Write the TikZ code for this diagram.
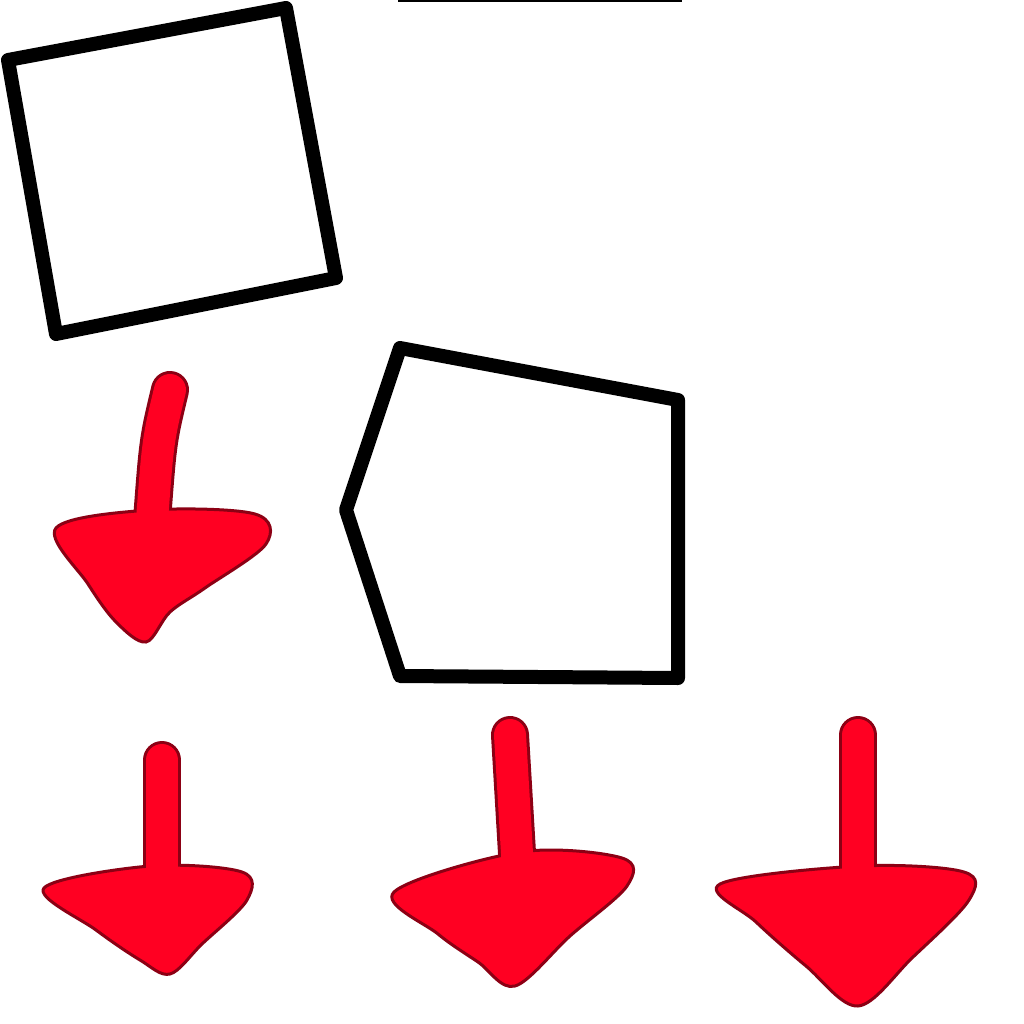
\documentclass[tikz,border=0pt]{standalone}
\definecolor{arrowred}{RGB}{255,0,34}
\definecolor{arrowdark}{RGB}{140,0,20}
\tikzset{
  frame/.style={draw=black, line width=14pt, line join=round, fill=white},
  headshape/.style={fill=arrowred, draw=arrowdark, line width=3pt},
  shaftout/.style={draw=arrowdark, line width=38pt, line cap=round},
  shaftin/.style={draw=arrowred, line width=32pt, line cap=round},
}
\begin{document}
\begin{tikzpicture}[x=1pt,y=-1pt]
\useasboundingbox (0,0) rectangle (1024,1024);
\fill[white] (0,0) rectangle (1024,1024);
% top thin line
\coordinate (tl1) at (398,1);
\coordinate (tl2) at (682,1);
\draw[line width=2pt] (tl1) -- (tl2);
% tilted square
\draw[frame] (8,60) -- (286,8) -- (336,278) -- (56,334) -- cycle;
% pentagon
\draw[frame] (400,348) -- (678,400) -- (678,678) -- (400,676) -- (346,510) -- cycle;
% arrow A
\draw[shaftout] (170,390) .. controls (158,440) .. (152,520);
\draw[headshape] plot[smooth cycle, tension=0.55] coordinates {(56,528) (150,510) (255,514) (266,544) (205,588) (170,612) (146,642) (116,622) (88,584)};
\draw[shaftin] (170,390) .. controls (158,440) .. (152,520);
% arrow B
\draw[shaftout] (162,760) -- (162,880);
\draw[headshape] plot[smooth cycle, tension=0.55] coordinates {(44,888) (150,866) (242,872) (247,900) (202,944) (170,974) (140,960) (96,930)};
\draw[shaftin] (162,760) -- (162,880);
% arrow C
\draw[shaftout] (510,735) -- (518,870);
\draw[headshape] plot[smooth cycle, tension=0.55] coordinates {(394,892) (520,852) (622,858) (627,886) (570,936) (515,986) (478,962) (438,934)};
\draw[shaftin] (510,735) -- (518,870);
% arrow D
\draw[shaftout] (858,735) -- (858,870);
\draw[headshape] plot[smooth cycle, tension=0.55] coordinates {(720,884) (860,866) (964,872) (969,900) (912,958) (858,1006) (806,966) (756,922)};
\draw[shaftin] (858,735) -- (858,870);
\end{tikzpicture}
\end{document}
